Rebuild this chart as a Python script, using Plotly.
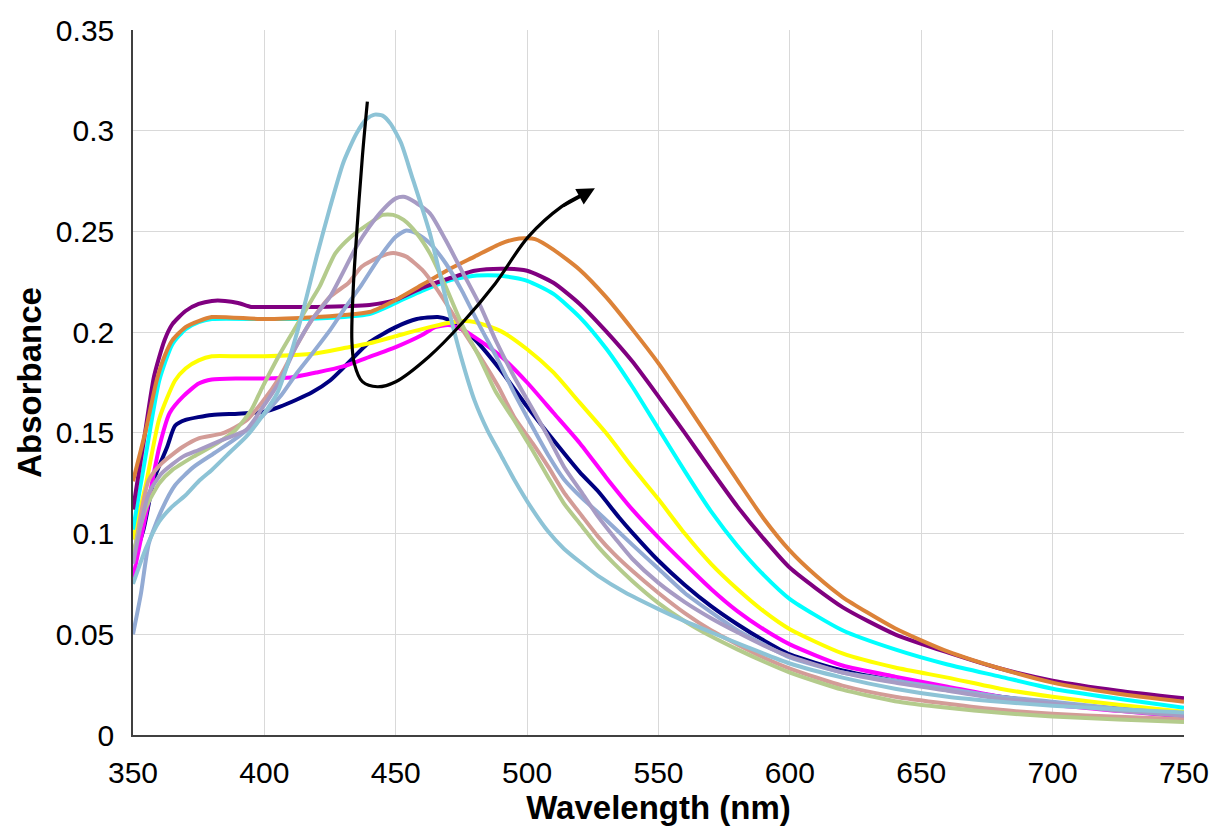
import plotly.graph_objects as go

# ---------------- data ----------------
wl_navy = [350, 354, 358, 363, 366, 370, 380, 390, 400, 406, 412, 418, 425, 431, 440, 450, 458, 466, 470, 475, 480, 490, 500, 510, 520, 527, 535, 540, 550, 560, 570, 580, 590, 600, 620, 640, 660, 680, 700, 725, 750]
abs_navy = [0.086, 0.102, 0.127, 0.143, 0.1535, 0.1564, 0.1589, 0.1595, 0.1605, 0.163, 0.1663, 0.170, 0.176, 0.1835, 0.195, 0.2025, 0.2065, 0.2075, 0.2062, 0.2015, 0.1965, 0.181, 0.163, 0.1464, 0.1305, 0.121, 0.108, 0.1005, 0.0865, 0.0745, 0.064, 0.055, 0.047, 0.040, 0.032, 0.027, 0.023, 0.019, 0.016, 0.013, 0.0105]

wl_magenta = [350, 355, 360, 364, 369, 375, 380, 390, 400, 410, 420, 430, 440, 450, 460, 465, 470, 475, 480, 490, 500, 510, 520, 530, 540, 550, 560, 570, 580, 590, 600, 620, 640, 660, 680, 700, 725, 750]
abs_magenta = [0.078, 0.110, 0.143, 0.160, 0.168, 0.1745, 0.1765, 0.177, 0.177, 0.1775, 0.180, 0.183, 0.1877, 0.1926, 0.1986, 0.2025, 0.2035, 0.2015, 0.1975, 0.188, 0.175, 0.160, 0.145, 0.128, 0.112, 0.098, 0.085, 0.0725, 0.0615, 0.0525, 0.045, 0.0345, 0.029, 0.024, 0.019, 0.015, 0.012, 0.009]

wl_yellow = [350, 355, 360, 366, 370, 375, 380, 390, 400, 410, 420, 430, 440, 450, 460, 470, 476, 480, 490, 500, 510, 520, 530, 540, 550, 560, 570, 580, 590, 600, 620, 640, 660, 680, 700, 725, 750]
abs_yellow = [0.097, 0.125, 0.157, 0.176, 0.182, 0.186, 0.188, 0.188, 0.188, 0.1885, 0.1895, 0.192, 0.1945, 0.198, 0.2015, 0.2045, 0.2055, 0.205, 0.2005, 0.1915, 0.180, 0.165, 0.150, 0.133, 0.117, 0.100, 0.085, 0.0725, 0.0615, 0.0525, 0.0405, 0.0335, 0.0285, 0.023, 0.019, 0.015, 0.0115]

wl_cyan = [350, 355, 360, 365, 370, 375, 380, 400, 420, 440, 450, 460, 470, 480, 490, 500, 510, 520, 530, 540, 550, 560, 570, 580, 590, 600, 620, 640, 660, 680, 700, 725, 750]
abs_cyan = [0.102, 0.140, 0.176, 0.194, 0.2015, 0.205, 0.2065, 0.2065, 0.2068, 0.209, 0.2145, 0.2205, 0.2255, 0.228, 0.228, 0.2255, 0.219, 0.2075, 0.192, 0.173, 0.152, 0.131, 0.111, 0.094, 0.0795, 0.0675, 0.052, 0.0425, 0.035, 0.029, 0.023, 0.018, 0.0135]

wl_purple = [350, 354, 358, 362, 365, 370, 375, 380, 385, 390, 395, 400, 420, 440, 450, 460, 470, 480, 490, 500, 510, 520, 530, 540, 550, 560, 570, 580, 590, 600, 620, 640, 660, 680, 700, 725, 750]
abs_purple = [0.112, 0.145, 0.178, 0.196, 0.204, 0.2105, 0.214, 0.2155, 0.2155, 0.2145, 0.2125, 0.2125, 0.2125, 0.2135, 0.216, 0.222, 0.2265, 0.2305, 0.2315, 0.2305, 0.2245, 0.214, 0.2005, 0.1855, 0.168, 0.150, 0.1315, 0.1135, 0.0975, 0.083, 0.0635, 0.050, 0.041, 0.033, 0.027, 0.022, 0.0182]

wl_orange = [350, 355, 359, 362, 365, 370, 375, 380, 400, 420, 430, 440, 450, 460, 470, 480, 490, 497, 503, 510, 520, 530, 540, 550, 560, 570, 580, 590, 600, 610, 620, 640, 660, 680, 700, 725, 750]
abs_orange = [0.126, 0.152, 0.176, 0.188, 0.196, 0.2025, 0.2055, 0.2075, 0.2065, 0.2075, 0.2085, 0.210, 0.216, 0.2235, 0.231, 0.2375, 0.244, 0.2465, 0.2462, 0.241, 0.231, 0.2175, 0.2015, 0.1845, 0.1655, 0.146, 0.1265, 0.1075, 0.0915, 0.079, 0.0685, 0.053, 0.0415, 0.033, 0.026, 0.0205, 0.0165]

wl_salmon = [350, 356, 361, 369, 375, 384, 393, 399, 406, 412, 418, 425, 432, 437, 444, 449, 454, 460, 465, 470, 476, 482, 489, 495, 502, 508, 514, 521, 527, 533, 540, 550, 560, 570, 580, 590, 600, 620, 640, 660, 680, 700, 725, 750]
abs_salmon = [0.086, 0.1266, 0.135, 0.1431, 0.1473, 0.1497, 0.156, 0.165, 0.178, 0.1927, 0.206, 0.2176, 0.2244, 0.2325, 0.2375, 0.2393, 0.2375, 0.231, 0.2226, 0.2126, 0.200, 0.188, 0.173, 0.158, 0.145, 0.1332, 0.1205, 0.1085, 0.0985, 0.090, 0.0815, 0.0705, 0.0605, 0.052, 0.045, 0.0385, 0.033, 0.0245, 0.019, 0.0155, 0.0125, 0.0105, 0.009, 0.0078]

wl_steel = [350, 353, 356, 361, 366, 373, 381, 390, 399, 406, 412, 418, 425, 431, 437, 444, 450, 454, 458, 463, 469, 475, 482, 489, 495, 502, 508, 514, 521, 527, 540, 550, 560, 570, 580, 590, 600, 620, 640, 660, 680, 700, 725, 750]
abs_steel = [0.050, 0.070, 0.095, 0.112, 0.124, 0.133, 0.140, 0.148, 0.158, 0.168, 0.179, 0.189, 0.201, 0.2126, 0.2235, 0.2375, 0.2474, 0.2505, 0.249, 0.2441, 0.2342, 0.221, 0.203, 0.186, 0.170, 0.153, 0.139, 0.127, 0.1175, 0.1105, 0.0945, 0.0825, 0.0705, 0.061, 0.052, 0.045, 0.0385, 0.031, 0.027, 0.023, 0.019, 0.0165, 0.013, 0.0105]

wl_green = [350, 355, 360, 365, 373, 382, 389, 395, 399, 406, 412, 418, 421, 427, 433, 440, 445, 449, 453, 458, 463, 469, 475, 482, 488, 495, 502, 508, 514, 521, 527, 533, 540, 550, 560, 570, 580, 590, 600, 620, 640, 660, 680, 700, 725, 750]
abs_green = [0.090, 0.113, 0.125, 0.1316, 0.1382, 0.1448, 0.1514, 0.1613, 0.172, 0.1894, 0.2027, 0.216, 0.2226, 0.2391, 0.2474, 0.254, 0.2582, 0.2582, 0.2557, 0.249, 0.2391, 0.2226, 0.2044, 0.187, 0.1705, 0.1564, 0.1415, 0.128, 0.115, 0.1034, 0.0935, 0.0852, 0.0765, 0.0655, 0.0565, 0.049, 0.0425, 0.0365, 0.031, 0.0225, 0.0168, 0.0135, 0.011, 0.0092, 0.0077, 0.0065]

wl_lavender = [350, 356, 361, 369, 375, 384, 393, 399, 406, 412, 418, 425, 435, 440, 445, 450, 453, 456, 463, 469, 475, 482, 488, 495, 502, 508, 514, 521, 527, 534, 540, 550, 560, 570, 580, 590, 600, 620, 640, 660, 680, 700, 725, 750]
abs_lavender = [0.085, 0.120, 0.130, 0.1382, 0.1415, 0.1465, 0.1514, 0.162, 0.176, 0.1927, 0.206, 0.2176, 0.2424, 0.2524, 0.2606, 0.2664, 0.2672, 0.2656, 0.259, 0.2457, 0.2308, 0.2135, 0.196, 0.178, 0.162, 0.148, 0.1332, 0.120, 0.1084, 0.0968, 0.0875, 0.0755, 0.066, 0.058, 0.051, 0.0445, 0.039, 0.031, 0.026, 0.022, 0.018, 0.0155, 0.012, 0.0095]

wl_lightblue = [350, 355, 360, 365, 370, 375, 380, 387, 393, 399, 405, 410, 415, 420, 425, 430, 435, 439, 442, 445, 448, 452, 456, 463, 469, 475, 480, 485, 490, 495, 502, 508, 514, 521, 527, 537, 550, 560, 570, 584, 600, 620, 640, 660, 680, 700, 725, 750]
abs_lightblue = [0.075, 0.093, 0.106, 0.1135, 0.119, 0.126, 0.1316, 0.1405, 0.148, 0.158, 0.170, 0.189, 0.212, 0.238, 0.262, 0.284, 0.2985, 0.306, 0.308, 0.3075, 0.3035, 0.294, 0.278, 0.249, 0.217, 0.187, 0.166, 0.151, 0.139, 0.127, 0.112, 0.101, 0.0925, 0.085, 0.079, 0.071, 0.0625, 0.0565, 0.051, 0.0435, 0.0355, 0.0285, 0.023, 0.019, 0.0165, 0.0145, 0.0128, 0.0112]

# black guide arrow drawn over the spectra
arrow_x = [439.2, 437.3, 435.4, 433.8, 433.3, 434.2, 437.3, 443.0, 450.0, 462.6, 475.2, 487.9, 500.5, 513.1, 521.0]
arrow_y = [0.3144, 0.2871, 0.2540, 0.2209, 0.1960, 0.1845, 0.1754, 0.1729, 0.1754, 0.1878, 0.2044, 0.2242, 0.2474, 0.2623, 0.2682]
arrow_tip = (525.8, 0.2714)

y_tickvals = [0, 0.05, 0.1, 0.15, 0.2, 0.25, 0.3, 0.35]
y_ticktext = ["0", "0.05", "0.1", "0.15", "0.2", "0.25", "0.3", "0.35"]
x_tickvals = [350, 400, 450, 500, 550, 600, 650, 700, 750]

series = [
    (wl_navy, abs_navy, "#000080"),
    (wl_magenta, abs_magenta, "#FF00FF"),
    (wl_yellow, abs_yellow, "#FFFF00"),
    (wl_cyan, abs_cyan, "#00FFFF"),
    (wl_purple, abs_purple, "#800080"),
    (wl_orange, abs_orange, "#DC8238"),
    (wl_salmon, abs_salmon, "#D39C97"),
    (wl_steel, abs_steel, "#93ABD4"),
    (wl_green, abs_green, "#B4CB8C"),
    (wl_lavender, abs_lavender, "#A79BC4"),
    (wl_lightblue, abs_lightblue, "#8DC3D6"),
]

fig = go.Figure()
for xs, ys, col in series:
    fig.add_trace(go.Scatter(x=xs, y=ys, mode="lines",
                             line=dict(color=col, width=4, shape="spline", smoothing=0.6),
                             showlegend=False, hoverinfo="skip"))

fig.add_trace(go.Scatter(x=arrow_x, y=arrow_y, mode="lines",
                         line=dict(color="black", width=3.2, shape="spline", smoothing=1.0),
                         showlegend=False, hoverinfo="skip"))
fig.add_annotation(x=arrow_tip[0], y=arrow_tip[1], ax=arrow_x[-2], ay=arrow_y[-2],
                   xref="x", yref="y", axref="x", ayref="y", text="",
                   showarrow=True, arrowhead=2, arrowsize=1.1, arrowwidth=3.2, arrowcolor="black")

font_family = "Liberation Sans, Arial, sans-serif"
fig.update_layout(
    width=1221, height=834,
    margin=dict(l=133, r=33, t=30, b=99),
    plot_bgcolor="white", paper_bgcolor="white",
    font=dict(family=font_family, color="black"),
    showlegend=False,
)
fig.update_xaxes(range=[350, 750], tickvals=x_tickvals, showgrid=True, gridcolor="#D9D9D9", gridwidth=1.3,
                 showline=True, linecolor="#404040", linewidth=1.5, zeroline=False, ticks="",
                 tickfont=dict(size=30, family=font_family), ticklabelstandoff=10,
                 title=dict(text="<b>Wavelength (nm)</b>", font=dict(size=33, family=font_family), standoff=6))
fig.update_yaxes(range=[0, 0.35], tickvals=y_tickvals, ticktext=y_ticktext, showgrid=True, gridcolor="#D9D9D9", gridwidth=1.3,
                 showline=True, linecolor="#404040", linewidth=1.5, zeroline=False, ticks="",
                 tickfont=dict(size=30, family=font_family), ticklabelstandoff=11,
                 title=dict(text="<b>Absorbance</b>", font=dict(size=33, family=font_family), standoff=4))

fig.write_html("out.html")
